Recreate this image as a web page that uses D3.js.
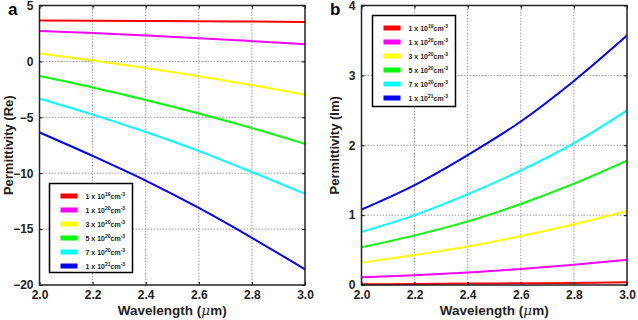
<!DOCTYPE html>
<html><head><meta charset="utf-8">
<script src="https://cdn.jsdelivr.net/npm/d3@7"></script>
<style>body{margin:0;background:#fff}svg{display:block;font-family:"Liberation Sans",Arial,sans-serif}</style>
</head><body><svg id="c" width="638" height="320"></svg>
<script>
const wavelengths = [2.0, 2.2, 2.4, 2.6, 2.8, 3.0];
const seriesLabels = ["19", "20", "20", "20", "20", "21"];
const seriesPrefix = ["1", "1", "3", "5", "7", "1"];
const seriesColors = ["#ff0000", "#ff00ff", "#ffff00", "#00ff00", "#00ffff", "#0000ff"];
const reValues = [
  [3.65, 3.63, 3.61, 3.59, 3.56, 3.53],
  [2.73, 2.53, 2.31, 2.07, 1.81, 1.54],
  [0.71, 0.09, -0.59, -1.33, -2.13, -2.98],
  [-1.31, -2.33, -3.45, -4.66, -5.97, -7.38],
  [-3.34, -4.76, -6.32, -8.02, -9.90, -11.85],
  [-6.35, -8.45, -10.66, -13.11, -15.78, -18.6]
];
const imValues = [
  [0.01, 0.015, 0.02, 0.025, 0.03, 0.04],
  [0.11, 0.14, 0.18, 0.23, 0.29, 0.36],
  [0.32, 0.43, 0.55, 0.70, 0.87, 1.06],
  [0.54, 0.71, 0.91, 1.16, 1.45, 1.78],
  [0.76, 1.00, 1.30, 1.64, 2.03, 2.50],
  [1.08, 1.43, 1.86, 2.34, 2.92, 3.57]
];
const xTicks = [2.0, 2.2, 2.4, 2.6, 2.8, 3.0];
const reTicks = [5, 0, -5, -10, -15, -20];
const imTicks = [0, 1, 2, 3, 4];

const svg = d3.select("#c");

function panel(o) {
  const g = svg.append("g");
  const x = d3.scaleLinear().domain([2, 3]).range([o.x0, o.x1]);
  const y = d3.scaleLinear().domain(o.ydom).range([o.y1, o.y0]);
  // grid
  g.append("g").selectAll("line").data(xTicks.slice(1, -1)).join("line")
    .attr("x1", d => x(d)).attr("x2", d => x(d)).attr("y1", o.y0).attr("y2", o.y1)
    .attr("stroke", "#9a9aa8").attr("stroke-width", 1).attr("stroke-dasharray", "1.5,1.5");
  g.append("g").selectAll("line").data(o.yticks.filter(d => d !== o.ydom[0] && d !== o.ydom[1])).join("line")
    .attr("y1", d => y(d)).attr("y2", d => y(d)).attr("x1", o.x0).attr("x2", o.x1)
    .attr("stroke", "#9a9aa8").attr("stroke-width", 1).attr("stroke-dasharray", "1.5,1.5");
  // lines
  const line = d3.line().x((d, i) => x(wavelengths[i])).y(d => y(d)).curve(d3.curveMonotoneX);
  g.append("g").selectAll("path").data(o.values).join("path")
    .attr("d", d => line(d)).attr("fill", "none")
    .attr("stroke", (d, i) => seriesColors[i]).attr("stroke-width", 2);
  // axes
  const ax = d3.axisBottom(x).tickValues(xTicks).tickFormat(d3.format(".1f")).tickSizeInner(-3).tickSizeOuter(0).tickPadding(5);
  const axB = g.append("g").attr("transform", `translate(0,${o.y1})`).call(ax);
  const ay = d3.axisLeft(y).tickValues(o.yticks).tickFormat(d3.format("d")).tickSizeInner(-3).tickSizeOuter(0).tickPadding(6);
  const axL = g.append("g").attr("transform", `translate(${o.x0},0)`).call(ay);
  const axR = g.append("g").attr("transform", `translate(${o.x1},0)`).call(d3.axisRight(y).tickValues(o.yticks).tickFormat("").tickSizeInner(-3).tickSizeOuter(0));
  const axT = g.append("g").attr("transform", `translate(0,${o.y0})`).call(d3.axisTop(x).tickValues(xTicks).tickFormat("").tickSizeInner(-3).tickSizeOuter(0));
  [axB, axL, axR, axT].forEach(a => {
    a.select(".domain").remove();
    a.selectAll("line").attr("stroke", "#000");
    a.selectAll("text").attr("font-size", 12).attr("font-weight", "bold").attr("fill", "#222")
      .attr("font-family", "'Liberation Sans', Arial, sans-serif");
  });
  g.append("rect").attr("x", o.x0).attr("y", o.y0).attr("width", o.x1 - o.x0).attr("height", o.y1 - o.y0)
    .attr("fill", "none").attr("stroke", "#222").attr("stroke-width", 1.5);
  // labels
  const xl = g.append("text").attr("x", (o.x0 + o.x1) / 2).attr("y", 315).attr("text-anchor", "middle")
    .attr("font-size", 13.5).attr("font-weight", "bold").attr("fill", "#222");
  xl.append("tspan").text("Wavelength (");
  xl.append("tspan").attr("font-style", "italic").attr("font-family", "'DejaVu Serif', serif").attr("font-weight", "normal").text("μ");
  xl.append("tspan").text("m)");
  g.append("text").attr("transform", `translate(${o.ylabX},${(o.y0 + o.y1) / 2}) rotate(-90)`)
    .attr("text-anchor", "middle").attr("font-size", 13).attr("font-weight", "bold").attr("fill", "#222").text(o.ylabel);
  g.append("text").attr("x", o.letterX).attr("y", 15).attr("font-size", 17).attr("font-weight", "bold").attr("fill", "#000").text(o.letter);
  // legend
  const L = o.legend;
  g.append("rect").attr("x", L.x).attr("y", L.y).attr("width", L.w).attr("height", L.h)
    .attr("fill", "#fff").attr("stroke", "#000").attr("stroke-width", 1.5);
  const rows = g.append("g").selectAll("g").data(seriesColors).join("g")
    .attr("transform", (d, i) => `translate(${L.x + 11},${L.y + 12.5 + i * 14})`);
  rows.append("rect").attr("x", 0).attr("y", -2.5).attr("width", 17).attr("height", 5).attr("fill", d => d);
  const t = rows.append("text").attr("x", 25).attr("y", 2.5).attr("font-size", 7).attr("font-weight", "bold").attr("fill", "#222")
    .attr("font-family", "'Liberation Sans', Arial, sans-serif");
  t.append("tspan").text((d, i) => seriesPrefix[i] + " x 10");
  t.append("tspan").attr("font-size", 5).attr("dy", -3).text((d, i) => seriesLabels[i]);
  t.append("tspan").attr("dy", 3).text("cm");
  t.append("tspan").attr("font-size", 5).attr("dy", -3).text("-3");
}

panel({x0: 39.5, x1: 305, y0: 5.5, y1: 285, ydom: [-20, 5], yticks: reTicks, values: reValues,
  ylabel: "Permittivity (Re)", ylabX: 13, letter: "a", letterX: 8,
  legend: {x: 49.5, y: 183.5, w: 83, h: 89}});
panel({x0: 361.5, x1: 627, y0: 5.5, y1: 285, ydom: [0, 4], yticks: imTicks, values: imValues,
  ylabel: "Permittivity (Im)", ylabX: 339, letter: "b", letterX: 330,
  legend: {x: 372.5, y: 15.5, w: 83, h: 91}});
</script></body></html>
